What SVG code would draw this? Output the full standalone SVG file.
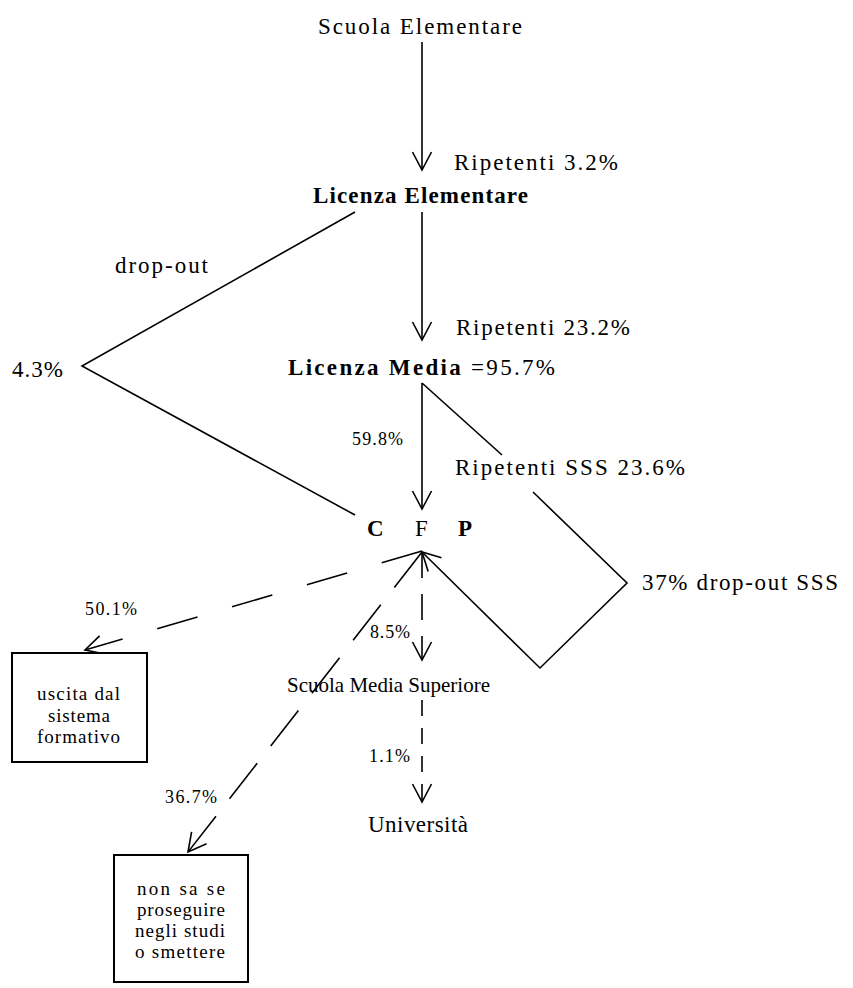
<svg xmlns="http://www.w3.org/2000/svg" width="853" height="988" viewBox="0 0 853 988">
<defs>
<marker id="ah" markerUnits="userSpaceOnUse" markerWidth="24" markerHeight="24" refX="0" refY="0" orient="auto" overflow="visible">
<path d="M-18,-9.5 L0,0 L-18,9.5" fill="none" stroke="#000" stroke-width="1.6"/>
</marker>
</defs>
<style>
.t{font-family:"Liberation Serif","Times New Roman",serif;font-size:23px;fill:#000}
.s{font-size:18px}
.x{font-size:19px}
.m{font-size:21px}
.b{font-weight:bold}
.ln{stroke:#000;stroke-width:1.6;fill:none}
.d1{stroke-dasharray:26 16}
.d2{stroke-dasharray:16 12}
.d3{stroke-dasharray:42 36}
.d4{stroke-dasharray:45 22}
.box{fill:#fff;stroke:#000;stroke-width:2}
</style>
<rect width="853" height="988" fill="#fff"/>
<g id="connectors">
<path class="ln" d="M422,42 V170" marker-end="url(#ah)"/>
<path class="ln" d="M422,212 V340" marker-end="url(#ah)"/>
<path class="ln" d="M422,383 V509" marker-end="url(#ah)"/>
<polyline class="ln" points="355,212 82,366 355,515"/>
<path class="ln" d="M422,383 L502,455"/>
<path class="ln" d="M533,492 L627,583 L540,668 L422,552" marker-end="url(#ah)"/>
<path class="ln d1" d="M422,552 V660" marker-end="url(#ah)"/>
<path class="ln d2" d="M422,700 V802" marker-end="url(#ah)"/>
<path class="ln d3" d="M422,551 L85,650" marker-end="url(#ah)"/>
<path class="ln d4" d="M422,552 L188,852" marker-end="url(#ah)"/>
</g>
<g id="scuola-elementare"><text class="t" x="318" y="34" textLength="204" lengthAdjust="spacing">Scuola  Elementare</text></g>
<g id="licenza-elementare"><text class="t b" x="313" y="203" textLength="215" lengthAdjust="spacing">Licenza  Elementare</text></g>
<g id="licenza-media"><text class="t" x="288" y="375" textLength="267" lengthAdjust="spacing"><tspan class="b">Licenza  Media</tspan>  =95.7%</text></g>
<g id="cfp">
<text class="t b" x="367" y="536">C</text>
<text class="t" x="415" y="536">F</text>
<text class="t b" x="458" y="536">P</text>
</g>
<g id="dropout-node"><text class="t" x="12" y="377" textLength="51" lengthAdjust="spacing">4.3%</text></g>
<g id="dropout-sss"><text class="t" x="642" y="590" textLength="196" lengthAdjust="spacing">37%  drop-out  SSS</text></g>
<g id="scuola-media-superiore"><text class="t m" x="287" y="692" textLength="203" lengthAdjust="spacing">Scuola  Media  Superiore</text></g>
<g id="universita"><text class="t" x="368" y="832" textLength="100" lengthAdjust="spacing">Università</text></g>
<g id="uscita">
<rect class="box" x="12" y="653" width="135" height="109"/>
<text class="t x" x="37" y="700" textLength="83" lengthAdjust="spacing">uscita  dal</text>
<text class="t x" x="48" y="722" textLength="62" lengthAdjust="spacing">sistema</text>
<text class="t x" x="37" y="743" textLength="83" lengthAdjust="spacing">formativo</text>
</g>
<g id="non-sa">
<rect class="box" x="114" y="855" width="134" height="127"/>
<text class="t x" x="137" y="895" textLength="88" lengthAdjust="spacing">non  sa  se</text>
<text class="t x" x="137" y="916" textLength="88" lengthAdjust="spacing">proseguire</text>
<text class="t x" x="135" y="937" textLength="90" lengthAdjust="spacing">negli  studi</text>
<text class="t x" x="135" y="958" textLength="90" lengthAdjust="spacing">o  smettere</text>
</g>
<g id="labels">
<text class="t" x="454" y="170" textLength="164" lengthAdjust="spacing">Ripetenti  3.2%</text>
<text class="t" x="115" y="273" textLength="93" lengthAdjust="spacing">drop-out</text>
<text class="t" x="456" y="335" textLength="174" lengthAdjust="spacing">Ripetenti  23.2%</text>
<text class="t s" x="352" y="445" textLength="51" lengthAdjust="spacing">59.8%</text>
<text class="t" x="455" y="475" textLength="230" lengthAdjust="spacing">Ripetenti  SSS  23.6%</text>
<text class="t s" x="85" y="615" textLength="52" lengthAdjust="spacing">50.1%</text>
<text class="t s" x="370" y="638" textLength="40" lengthAdjust="spacing">8.5%</text>
<text class="t s" x="369" y="762" textLength="41" lengthAdjust="spacing">1.1%</text>
<text class="t s" x="165" y="803" textLength="52" lengthAdjust="spacing">36.7%</text>
</g>
</svg>
